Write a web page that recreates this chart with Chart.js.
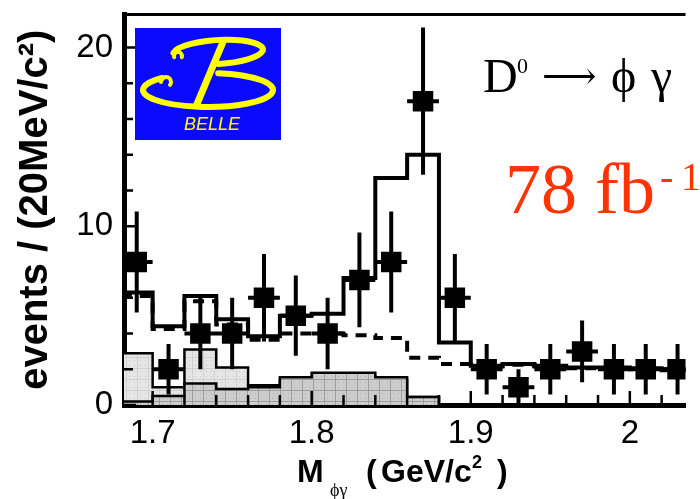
<!DOCTYPE html>
<html>
<head>
<meta charset="UTF-8">
<title>D0 -> phi gamma</title>
<script src="https://cdn.jsdelivr.net/npm/chart.js@4"></script>
<style>
  html, body { margin: 0; padding: 0; background: #fff; overflow: hidden; }
  #wrap { width: 700px; height: 499px; }
</style>
</head>
<body>
<div id="wrap"><canvas id="chart1"></canvas></div>
<script>
// 20 MeV bins, centres in GeV/c^2
const massBins = [1.69, 1.71, 1.73, 1.75, 1.77, 1.79, 1.81, 1.83, 1.85, 1.87, 1.89, 1.91, 1.93, 1.95, 1.97, 1.99, 2.01, 2.03];
const binHalf = 0.01;
const events   = [8, 2, 4, 4, 6, 5, 4, 7, 8, 17, 6, 2, 1, 2, 3, 2, 2, 2];
const eventErr = [2.83, 1.41, 2, 2, 2.45, 2.24, 2, 2.65, 2.83, 4.12, 2.45, 1.41, 1, 1.41, 1.73, 1.41, 1.41, 1.41];
const fitTotal = [6.3, 4.4, 6.1, 4.8, 3.85, 5.0, 5.1, 7.1, 12.7, 14.0, 3.5, 2.2, 2.3, 2.2, 2.1, 2.1, 2.05, 2.0];
const fitBkg   = [6.1, 4.25, 5.8, 4.5, 3.65, 4.0, 4.0, 3.9, 3.75, 2.65, 2.3, 2.15, 2.25, 2.15, 2.05, 2.05, 2.0, 1.95];
const bkgLight = [2.9, 1.0, 3.1, 2.1, 1.1, 1.4, 1.6, 1.6, 1.4, 0.45, 0, 0, 0, 0, 0, 0, 0, 0];
const bkgDark  = [0.2, 0.5, 1.2, 0.9, 1.0, 1.55, 1.8, 1.8, 1.55, 0.45, 0, 0, 0, 0, 0, 0, 0, 0];

const xTicksMajor = ['1.7', '1.8', '1.9', '2'];
const yTicksMajor = [0, 10, 20];

function stepPoints(vals) {
    let pts = massBins.map((c, i) => ({x: c - binHalf, y: vals[i]}));
    pts.push({x: massBins[massBins.length - 1] + binHalf, y: vals[vals.length - 1]});
    return pts;
}

let errPts = [];
massBins.forEach((c, i) => {
    errPts.push({x: c, y: Math.max(0, events[i] - eventErr[i])}, {x: c, y: events[i] + eventErr[i]}, {x: c, y: null});
    errPts.push({x: c - binHalf, y: events[i]}, {x: c + binHalf, y: events[i]}, {x: c, y: null});
});

function makePattern(base, line, dot) {
    let c = document.createElement('canvas');
    c.width = 11; c.height = 11;
    let g = c.getContext('2d');
    g.fillStyle = base;
    g.fillRect(0, 0, 11, 11);
    g.fillStyle = line;
    g.fillRect(5, 0, 1, 11);
    g.fillRect(0, 5, 11, 1);
    g.fillStyle = dot;
    g.fillRect(2, 2, 1, 1);
    g.fillRect(8, 8, 1, 1);
    g.fillRect(2, 8, 1, 1);
    g.fillRect(8, 2, 1, 1);
    return g.createPattern(c, 'repeat');
}
const lightFill = makePattern('#e6e6e6', '#cfcfcf', '#c4c4c4');
const darkFill = makePattern('#cdcdcd', '#9c9c9c', '#b0b0b0');

const isMajorX = v => Math.round(v * 50) % 5 === 0;

const decorations = {
    id: 'decorations',
    afterDatasetsDraw(chart) {
        const {ctx, chartArea: a, scales: {x, y}} = chart;
        ctx.save();
        ctx.strokeStyle = '#000';
        ctx.lineWidth = 2.5;
        ctx.beginPath();
        x.ticks.forEach(t => {
            let px = x.getPixelForValue(t.value);
            ctx.moveTo(px, a.bottom);
            ctx.lineTo(px, a.bottom - (isMajorX(t.value) ? 14 : 10));
        });
        y.ticks.forEach(t => {
            let py = y.getPixelForValue(t.value);
            ctx.moveTo(a.left, py);
            ctx.lineTo(a.left + (t.value % 10 === 0 ? 12 : 9), py);
        });
        ctx.stroke();
        // top frame
        ctx.lineWidth = 3;
        ctx.beginPath();
        ctx.moveTo(a.left - 2, a.top);
        ctx.lineTo(a.right, a.top);
        ctx.stroke();

        // Belle logo
        ctx.fillStyle = '#0a0aff';
        ctx.fillRect(135, 28, 146, 112);
        ctx.strokeStyle = '#ffff00';
        ctx.fillStyle = '#ffff00';
        ctx.lineCap = 'round';
        ctx.lineWidth = 6;
        ctx.beginPath();
        ctx.ellipse(218, 52, 45, 12, -0.06, Math.PI * 1.05, Math.PI * 2.5);
        ctx.stroke();
        ctx.beginPath();
        ctx.ellipse(208, 90, 65, 17, 0, Math.PI * 1.55, Math.PI * 3.25);
        ctx.stroke();
        ctx.lineWidth = 4;
        ctx.beginPath();
        ctx.arc(166, 82, 5, Math.PI * 1.0, Math.PI * 2.2);
        ctx.stroke();
        ctx.beginPath();
        ctx.arc(178, 56, 4, Math.PI * 0.9, Math.PI * 2.1);
        ctx.stroke();
        ctx.lineWidth = 7;
        ctx.beginPath();
        ctx.moveTo(223, 42);
        ctx.lineTo(197, 104);
        ctx.stroke();
        ctx.font = 'italic 18px "Liberation Sans"';
        ctx.textAlign = 'center';
        ctx.textBaseline = 'alphabetic';
        ctx.fillText('BELLE', 212, 130);

        // decay label
        ctx.fillStyle = '#000';
        ctx.textAlign = 'left';
        ctx.font = '48px "Liberation Serif"';
        ctx.fillText('D', 483, 92);
        ctx.font = '22px "Liberation Serif"';
        ctx.fillText('0', 517, 73);
        ctx.font = '38px "DejaVu Serif"';
        ctx.fillText('\u27f6', 542, 89);
        ctx.font = '48px "Liberation Serif"';
        ctx.fillText('\u03d5', 611, 92);
        ctx.fillText('\u03b3', 651, 92);

        // luminosity
        ctx.fillStyle = '#ff3300';
        ctx.font = '72px "Liberation Serif"';
        ctx.fillText('78 fb', 505, 213);
        ctx.font = '40px "Liberation Serif"';
        ctx.fillText('-', 660, 190);
        ctx.fillText('1', 681, 190);

        // x axis title
        ctx.fillStyle = '#000';
        ctx.font = 'bold 32px "Liberation Sans"';
        ctx.fillText('M', 297, 482);
        ctx.font = '18px "Liberation Serif"';
        ctx.fillText('\u03d5\u03b3', 330, 496);
        ctx.font = 'bold 32px "Liberation Sans"';
        ctx.fillText('(', 366, 482);
        ctx.fillText('GeV/c', 381, 482);
        ctx.fillText(')', 497, 482);
        ctx.font = 'bold 18px "Liberation Sans"';
        ctx.fillText('2', 472, 468);
        ctx.restore();
    }
};

new Chart('chart1', {
    type: 'line',
    data: {
        datasets: [{
            label: 'data',
            data: massBins.map((c, i) => ({x: c, y: events[i]})),
            showLine: false,
            pointStyle: 'rect',
            pointRadius: 14.5,
            backgroundColor: '#000',
            borderColor: '#000',
            borderWidth: 0,
            order: 0
        }, {
            label: 'errors',
            data: errPts,
            spanGaps: false,
            borderColor: '#000',
            borderWidth: 4,
            pointRadius: 0,
            order: 1
        }, {
            label: 'fit',
            data: stepPoints(fitTotal),
            stepped: 'before',
            borderColor: '#000',
            borderWidth: 4,
            pointRadius: 0,
            order: 2
        }, {
            label: 'background',
            data: stepPoints(fitBkg),
            stepped: 'before',
            borderColor: '#000',
            borderWidth: 4,
            borderDash: [11, 8],
            pointRadius: 0,
            order: 3
        }, {
            label: 'bkg dark',
            data: stepPoints(bkgDark),
            stepped: 'before',
            borderColor: '#000',
            borderWidth: 2.5,
            backgroundColor: darkFill,
            fill: 'origin',
            pointRadius: 0,
            order: 4
        }, {
            label: 'bkg light',
            data: stepPoints(bkgLight),
            stepped: 'before',
            borderColor: '#000',
            borderWidth: 2.5,
            backgroundColor: lightFill,
            fill: 'origin',
            pointRadius: 0,
            order: 5
        }]
    },
    options: {
        responsive: true,
        maintainAspectRatio: false,
        animation: false,
        events: [],
        layout: {padding: {top: 14, left: 0, right: 0, bottom: 0}},
        plugins: {
            legend: {display: false},
            tooltip: {enabled: false}
        },
        scales: {
            x: {
                type: 'linear',
                min: 1.682,
                max: 2.035,
                afterFit: s => { s.height = 94; s.paddingLeft = 0; s.paddingRight = 0; },
                grid: {display: false, drawTicks: false},
                border: {display: true, color: '#000', width: 5},
                ticks: {
                    stepSize: 0.02,
                    includeBounds: false,
                    autoSkip: false,
                    maxRotation: 0,
                    padding: 9,
                    color: '#000',
                    font: {family: 'Liberation Sans', size: 33},
                    callback: v => {
                        if (!isMajorX(v)) return '';
                        let lbl = String(+v.toFixed(1));
                        return xTicksMajor.includes(lbl) ? lbl : '';
                    }
                }
            },
            y: {
                min: 0,
                max: 21.85,
                afterFit: s => { s.width = 124; s.paddingTop = 0; s.paddingBottom = 0; },
                grid: {display: false, drawTicks: false},
                border: {display: true, color: '#000', width: 5},
                ticks: {
                    stepSize: 2,
                    includeBounds: false,
                    autoSkip: false,
                    padding: 11,
                    color: '#000',
                    font: {family: 'Liberation Sans', size: 33},
                    callback: v => yTicksMajor.includes(v) ? String(v) : ''
                },
                title: {
                    display: true,
                    text: 'events / (20MeV/c\u00b2)',
                    color: '#000',
                    font: {family: 'Liberation Sans', size: 40, weight: 'bold'},
                    padding: {top: 12, bottom: 0}
                }
            }
        }
    },
    plugins: [decorations]
});
</script>
</body>
</html>
